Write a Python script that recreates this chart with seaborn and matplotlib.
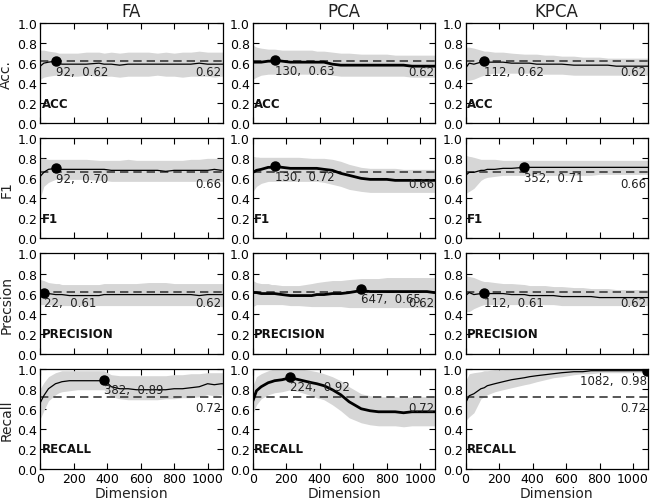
import matplotlib
matplotlib.use("Agg")
import matplotlib.pyplot as plt
import matplotlib.transforms as mtransforms
import seaborn as sns
import pandas as pd

# ---------------- data ----------------
methods = ["FA", "PCA", "KPCA"]
metrics = ["ACC", "F1", "PRECISION", "RECALL"]
row_labels = ["Acc.", "F1", "Precsion", "Recall"]
baselines = [0.62, 0.66, 0.62, 0.72]

dims = [1, 22, 50, 92, 112, 130, 175, 224, 275, 352, 382, 425, 475, 525, 575,
        647, 700, 750, 800, 850, 900, 950, 1000, 1040, 1082, 1090]

# FA
fa_acc_mean = [0.57,0.60,0.61,0.62,0.60,0.59,0.59,0.59,0.59,0.60,0.59,0.59,0.58,0.59,0.59,0.59,0.59,0.59,0.59,0.59,0.59,0.60,0.59,0.59,0.59,0.59]
fa_acc_lo   = [0.44,0.46,0.47,0.48,0.48,0.48,0.47,0.47,0.48,0.47,0.47,0.47,0.46,0.47,0.47,0.47,0.48,0.47,0.47,0.46,0.47,0.47,0.47,0.46,0.47,0.47]
fa_acc_hi   = [0.73,0.73,0.72,0.71,0.70,0.70,0.70,0.70,0.71,0.71,0.70,0.71,0.70,0.71,0.71,0.71,0.70,0.71,0.70,0.71,0.71,0.72,0.71,0.71,0.71,0.71]
fa_f1_mean  = [0.62,0.66,0.69,0.70,0.69,0.69,0.69,0.69,0.69,0.69,0.69,0.68,0.68,0.68,0.68,0.68,0.68,0.67,0.68,0.68,0.68,0.68,0.68,0.69,0.68,0.68]
fa_f1_lo    = [0.40,0.52,0.56,0.59,0.59,0.59,0.59,0.59,0.59,0.58,0.58,0.57,0.57,0.57,0.57,0.57,0.57,0.57,0.57,0.57,0.57,0.57,0.57,0.57,0.57,0.57]
fa_f1_hi    = [0.80,0.80,0.79,0.79,0.79,0.79,0.79,0.79,0.79,0.78,0.78,0.78,0.78,0.79,0.78,0.78,0.78,0.78,0.78,0.78,0.79,0.79,0.80,0.80,0.80,0.80]
fa_pre_mean = [0.61,0.61,0.60,0.59,0.59,0.59,0.58,0.58,0.58,0.58,0.59,0.59,0.59,0.59,0.59,0.59,0.59,0.59,0.59,0.59,0.59,0.58,0.59,0.59,0.59,0.59]
fa_pre_lo   = [0.49,0.49,0.49,0.48,0.48,0.48,0.48,0.48,0.48,0.48,0.48,0.48,0.48,0.48,0.48,0.48,0.48,0.48,0.48,0.48,0.48,0.48,0.48,0.48,0.47,0.47]
fa_pre_hi   = [0.74,0.73,0.71,0.70,0.70,0.69,0.69,0.69,0.69,0.69,0.70,0.70,0.70,0.70,0.70,0.71,0.71,0.71,0.70,0.70,0.70,0.70,0.70,0.70,0.70,0.70]
fa_rec_mean = [0.66,0.73,0.80,0.85,0.86,0.87,0.88,0.88,0.88,0.88,0.89,0.82,0.80,0.80,0.79,0.79,0.79,0.79,0.80,0.80,0.81,0.82,0.85,0.84,0.85,0.85]
fa_rec_lo   = [0.50,0.58,0.68,0.74,0.76,0.77,0.78,0.79,0.79,0.79,0.79,0.72,0.70,0.69,0.69,0.69,0.69,0.70,0.70,0.71,0.71,0.72,0.74,0.73,0.74,0.74]
fa_rec_hi   = [0.80,0.86,0.92,0.96,0.97,0.98,0.98,0.98,0.98,0.98,0.98,0.94,0.93,0.93,0.93,0.93,0.93,0.93,0.94,0.94,0.95,0.95,0.96,0.96,0.96,0.96]

# PCA
pca_acc_mean = [0.61,0.61,0.61,0.62,0.62,0.63,0.62,0.61,0.61,0.61,0.61,0.61,0.59,0.58,0.58,0.58,0.58,0.58,0.58,0.58,0.58,0.57,0.57,0.57,0.57,0.57]
pca_acc_lo   = [0.44,0.46,0.48,0.49,0.49,0.49,0.49,0.49,0.49,0.49,0.49,0.49,0.48,0.47,0.47,0.47,0.47,0.47,0.47,0.47,0.47,0.46,0.46,0.46,0.46,0.46]
pca_acc_hi   = [0.78,0.76,0.75,0.74,0.74,0.74,0.73,0.73,0.73,0.73,0.72,0.72,0.71,0.70,0.70,0.69,0.69,0.69,0.69,0.68,0.68,0.68,0.68,0.68,0.68,0.68]
pca_f1_mean  = [0.66,0.68,0.69,0.71,0.71,0.72,0.71,0.70,0.70,0.70,0.70,0.69,0.68,0.65,0.63,0.60,0.59,0.59,0.59,0.58,0.58,0.58,0.58,0.58,0.58,0.58]
pca_f1_lo    = [0.47,0.52,0.55,0.57,0.57,0.57,0.57,0.57,0.57,0.57,0.57,0.56,0.54,0.52,0.49,0.47,0.46,0.46,0.46,0.46,0.46,0.46,0.46,0.46,0.46,0.46]
pca_f1_hi    = [0.82,0.81,0.81,0.81,0.81,0.81,0.81,0.81,0.81,0.80,0.80,0.80,0.79,0.77,0.74,0.71,0.70,0.70,0.70,0.70,0.69,0.69,0.69,0.69,0.69,0.69]
pca_pre_mean = [0.61,0.61,0.60,0.60,0.60,0.60,0.59,0.58,0.58,0.58,0.59,0.59,0.60,0.60,0.61,0.63,0.62,0.62,0.62,0.62,0.62,0.62,0.62,0.62,0.61,0.61]
pca_pre_lo   = [0.47,0.49,0.49,0.49,0.49,0.49,0.49,0.48,0.48,0.47,0.47,0.47,0.47,0.47,0.46,0.46,0.46,0.46,0.46,0.46,0.46,0.46,0.46,0.46,0.46,0.46]
pca_pre_hi   = [0.73,0.71,0.70,0.70,0.69,0.69,0.68,0.68,0.68,0.70,0.71,0.72,0.73,0.73,0.74,0.75,0.75,0.75,0.76,0.76,0.76,0.76,0.76,0.76,0.76,0.76]
pca_rec_mean = [0.68,0.78,0.82,0.86,0.87,0.88,0.89,0.91,0.89,0.86,0.85,0.83,0.79,0.74,0.67,0.60,0.58,0.57,0.57,0.57,0.56,0.57,0.57,0.57,0.57,0.57]
pca_rec_lo   = [0.55,0.64,0.70,0.74,0.75,0.76,0.77,0.79,0.77,0.73,0.71,0.69,0.64,0.58,0.51,0.46,0.44,0.43,0.43,0.43,0.42,0.43,0.43,0.43,0.43,0.43]
pca_rec_hi   = [0.83,0.92,0.95,0.98,0.99,1.00,1.00,1.00,1.00,0.98,0.97,0.95,0.92,0.88,0.82,0.75,0.73,0.72,0.72,0.72,0.71,0.72,0.72,0.72,0.72,0.72]

# KPCA
kpca_acc_mean = [0.55,0.60,0.59,0.61,0.62,0.61,0.61,0.61,0.60,0.60,0.60,0.59,0.59,0.59,0.59,0.58,0.58,0.58,0.58,0.58,0.57,0.57,0.57,0.57,0.57,0.57]
kpca_acc_lo   = [0.43,0.43,0.44,0.47,0.48,0.49,0.50,0.50,0.50,0.50,0.50,0.49,0.49,0.49,0.49,0.48,0.48,0.48,0.48,0.48,0.48,0.48,0.48,0.48,0.48,0.48]
kpca_acc_hi   = [0.76,0.76,0.75,0.73,0.72,0.72,0.71,0.71,0.70,0.69,0.69,0.69,0.68,0.68,0.67,0.67,0.66,0.66,0.66,0.65,0.65,0.65,0.65,0.65,0.65,0.65]
kpca_f1_mean  = [0.63,0.66,0.66,0.68,0.68,0.69,0.69,0.70,0.70,0.71,0.71,0.71,0.71,0.71,0.71,0.71,0.71,0.71,0.71,0.71,0.71,0.71,0.71,0.71,0.71,0.71]
kpca_f1_lo    = [0.45,0.47,0.50,0.58,0.60,0.61,0.62,0.63,0.63,0.63,0.63,0.63,0.63,0.63,0.63,0.63,0.63,0.63,0.64,0.64,0.64,0.64,0.64,0.64,0.64,0.64]
kpca_f1_hi    = [0.83,0.82,0.81,0.79,0.79,0.79,0.79,0.78,0.78,0.78,0.78,0.78,0.78,0.78,0.78,0.78,0.78,0.78,0.78,0.78,0.78,0.78,0.78,0.78,0.78,0.78]
kpca_pre_mean = [0.58,0.61,0.59,0.60,0.61,0.60,0.60,0.60,0.59,0.59,0.58,0.58,0.58,0.58,0.57,0.57,0.57,0.57,0.56,0.56,0.56,0.56,0.56,0.56,0.56,0.56]
kpca_pre_lo   = [0.42,0.42,0.45,0.48,0.49,0.49,0.49,0.49,0.49,0.49,0.49,0.49,0.49,0.49,0.48,0.48,0.48,0.48,0.48,0.48,0.48,0.48,0.48,0.48,0.48,0.48]
kpca_pre_hi   = [0.78,0.77,0.76,0.73,0.72,0.72,0.71,0.70,0.70,0.69,0.68,0.68,0.68,0.67,0.67,0.66,0.66,0.65,0.65,0.65,0.64,0.64,0.64,0.64,0.64,0.64]
kpca_rec_mean = [0.66,0.73,0.75,0.80,0.81,0.83,0.85,0.87,0.89,0.91,0.92,0.93,0.94,0.95,0.96,0.97,0.97,0.98,0.98,0.98,0.98,0.98,0.98,0.98,0.98,0.98]
kpca_rec_lo   = [0.48,0.52,0.56,0.70,0.72,0.74,0.77,0.79,0.81,0.84,0.85,0.87,0.89,0.91,0.92,0.94,0.95,0.95,0.96,0.96,0.96,0.96,0.96,0.96,0.96,0.96]
kpca_rec_hi   = [0.88,0.95,0.96,0.97,0.98,0.98,0.99,0.99,1.00,1.00,1.00,1.00,1.00,1.00,1.00,1.00,1.00,1.00,1.00,1.00,1.00,1.00,1.00,1.00,1.00,1.00]

# best (dimension, value) per metric
fa_best_dims = [92, 92, 22, 382]
fa_best_vals = [0.62, 0.70, 0.61, 0.89]
pca_best_dims = [130, 130, 647, 224]
pca_best_vals = [0.63, 0.72, 0.65, 0.92]
kpca_best_dims = [112, 352, 112, 1082]
kpca_best_vals = [0.62, 0.71, 0.61, 0.98]

series = {
    "FA": [(fa_acc_mean, fa_acc_lo, fa_acc_hi), (fa_f1_mean, fa_f1_lo, fa_f1_hi),
           (fa_pre_mean, fa_pre_lo, fa_pre_hi), (fa_rec_mean, fa_rec_lo, fa_rec_hi)],
    "PCA": [(pca_acc_mean, pca_acc_lo, pca_acc_hi), (pca_f1_mean, pca_f1_lo, pca_f1_hi),
            (pca_pre_mean, pca_pre_lo, pca_pre_hi), (pca_rec_mean, pca_rec_lo, pca_rec_hi)],
    "KPCA": [(kpca_acc_mean, kpca_acc_lo, kpca_acc_hi), (kpca_f1_mean, kpca_f1_lo, kpca_f1_hi),
             (kpca_pre_mean, kpca_pre_lo, kpca_pre_hi), (kpca_rec_mean, kpca_rec_lo, kpca_rec_hi)],
}
bests = {"FA": (fa_best_dims, fa_best_vals),
         "PCA": (pca_best_dims, pca_best_vals),
         "KPCA": (kpca_best_dims, kpca_best_vals)}
line_widths = {"FA": 0.9, "PCA": 2.0, "KPCA": 0.9}

# ---------------- style ----------------
sns.set_style("ticks", {"xtick.direction": "in", "ytick.direction": "in",
                        "xtick.top": True, "ytick.right": True,
                        "axes.edgecolor": "black", "xtick.color": "black",
                        "ytick.color": "black", "text.color": "#222222",
                        "axes.labelcolor": "#222222"})
plt.rcParams["font.family"] = ["DejaVu Sans"]

fig, axes = plt.subplots(4, 3, figsize=(6.52, 5.02), dpi=100)
fig.subplots_adjust(left=0.0615, right=0.994, top=0.952, bottom=0.064,
                    wspace=0.165, hspace=0.15)

for c, m in enumerate(methods):
    for r, met in enumerate(metrics):
        ax = axes[r, c]
        mean, lo, hi = series[m][r]
        base = baselines[r]
        ax.fill_between(dims, lo, hi, color="#d6d6d6", lw=0, zorder=1)
        ax.axhline(base, color="#3a3a3a", ls=(0, (5, 3)), lw=1.2, zorder=2)
        df = pd.DataFrame({"Dimension": dims, "value": mean})
        sns.lineplot(data=df, x="Dimension", y="value", ax=ax, color="black",
                     lw=line_widths[m], zorder=3)
        bd, bv = bests[m][0][r], bests[m][1][r]
        ax.plot([bd], [bv], "o", color="black", ms=6.5, zorder=4)
        ha = "right" if bd > 900 else "left"
        ax.annotate(f"{bd},  {bv:.2f}", (bd, bv), xytext=(0, -2.5),
                    textcoords="offset points", ha=ha, va="top", fontsize=8.5,
                    color="#222222", zorder=5)
        trans = mtransforms.blended_transform_factory(ax.transAxes, ax.transData)
        ax.annotate(f"{base:.2f}", (1.0, base), xycoords=trans, xytext=(-1, -3),
                    textcoords="offset points", ha="right", va="top",
                    fontsize=8.5, color="#222222", zorder=5)
        ax.text(0.008, 0.2, met, transform=trans, ha="left", va="center",
                fontsize=8.5, fontweight="bold", color="#111111", zorder=5)

        ax.set_xlim(0, 1090)
        ax.set_ylim(0, 1)
        ax.set_xticks([0, 200, 400, 600, 800, 1000])
        ax.set_yticks([0, 0.2, 0.4, 0.6, 0.8, 1.0])
        ax.set_yticklabels(["0.0", "0.2", "0.4", "0.6", "0.8", "1.0"])
        ax.tick_params(labelsize=9, length=4, width=0.8, pad=2)
        for s in ax.spines.values():
            s.set_linewidth(0.9)
        if r < 3:
            ax.set_xticklabels([])
            ax.set_xlabel("")
        else:
            ax.set_xlabel("Dimension", fontsize=10, labelpad=1)
        if c == 0:
            ax.set_ylabel(row_labels[r], fontsize=10, labelpad=3)
        else:
            ax.set_ylabel("")
        if r == 0:
            ax.set_title(m, fontsize=12, pad=5)

fig.savefig("out.png", dpi=100)
